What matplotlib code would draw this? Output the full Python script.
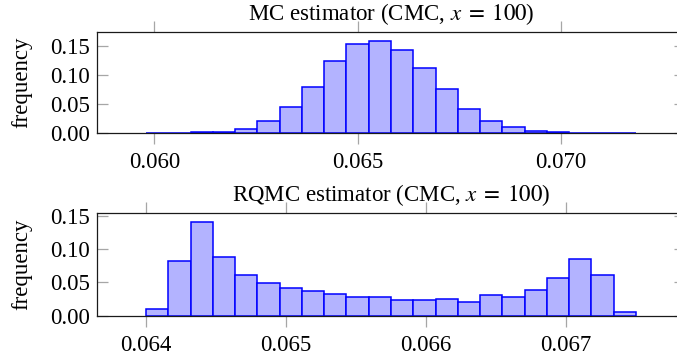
import numpy as np
import matplotlib
matplotlib.use("Agg")
import matplotlib.pyplot as plt

# --------------------------------------------------------
# Data: relative frequencies
# --------------------------------------------------------
mc_range = (0.059796, 0.071843)
mc_freq = [0.0005, 0.0007, 0.0015, 0.003, 0.0069, 0.0218, 0.0452, 0.079,
           0.124, 0.1545, 0.159, 0.144, 0.1128, 0.0756, 0.0418, 0.0212,
           0.0114, 0.004, 0.0023, 0.001, 0.001, 0.0005]
mc_ticks = [0.060, 0.065, 0.070]

rqmc_range = (0.0640, 0.0675)
rqmc_freq = [0.0106, 0.0818, 0.140, 0.0879, 0.0611, 0.049, 0.0409, 0.0364,
             0.0323, 0.0283, 0.0283, 0.0237, 0.0237, 0.0253, 0.0207, 0.0303,
             0.0283, 0.0379, 0.056, 0.0843, 0.0616, 0.005]
rqmc_ticks = [0.064, 0.065, 0.066, 0.067]

freq_ticks = [0.00, 0.05, 0.10, 0.15]

titles = [r"MC estimator (CMC, $x\;=\;100$)",
          r"RQMC estimator (CMC, $x\;=\;100$)"]

plt.rcParams["font.family"] = ["Liberation Serif", "DejaVu Serif"]
plt.rcParams["mathtext.fontset"] = "stix"
plt.rcParams["font.size"] = 16.5

fig = plt.figure(figsize=(6.77, 3.6), dpi=100)
ax1 = fig.add_axes([0.1433, 0.6297, 0.8685, 0.2822])
ax2 = fig.add_axes([0.1433, 0.1231, 0.8685, 0.2853])

panels = [(ax1, mc_range, mc_freq, mc_ticks),
          (ax2, rqmc_range, rqmc_freq, rqmc_ticks)]

for i, (ax, rng, freq, xt) in enumerate(panels):
    edges = np.linspace(rng[0], rng[1], len(freq) + 1)
    ax.bar(edges[:-1], freq, width=np.diff(edges), align="edge",
           color="#b3b3ff", edgecolor="#0000ff", linewidth=1.1)
    ax.margins(x=0.1, y=0.1)

    ax.set_xticks(xt)
    ax.set_xticklabels(["%.3f" % v for v in xt])
    ax.set_yticks(freq_ticks)
    ax.set_yticklabels(["%.2f" % v for v in freq_ticks])

    ax.tick_params(axis="x", direction="out", top=True, bottom=True,
                   length=7.7, width=0.9, color="0.65", pad=6)
    ax.tick_params(axis="y", direction="in", left=True, right=True,
                   length=8.2, width=0.9, color="0.65", pad=5)
    for sp in ax.spines.values():
        sp.set_linewidth(0.9)
        sp.set_color("0.1")

    ax.set_ylabel("frequency")
    ax.yaxis.set_label_coords(-0.11, 0.5)

    ax.annotate(titles[i], xy=(0.5, 1.0), xycoords="axes fraction",
                xytext=(0, 12), textcoords="offset pixels",
                ha="center", va="baseline")

fig.savefig("out.png", dpi=100)
